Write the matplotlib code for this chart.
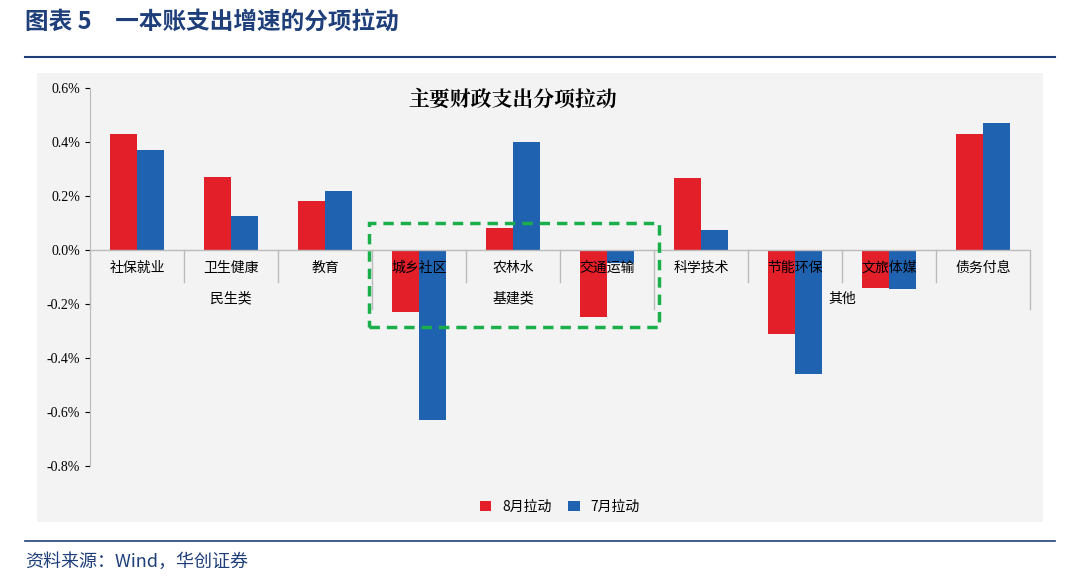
import matplotlib
matplotlib.use("Agg")
import matplotlib.pyplot as plt
from matplotlib.patches import Rectangle
import numpy as np

plt.rcParams['font.family'] = ['Noto Sans CJK SC', 'DejaVu Sans']

categories = ["社保就业","卫生健康","教育","城乡社区","农林水","交通运输","科学技术","节能环保","文旅体媒","债务付息"]
aug = [0.43,0.27,0.18,-0.23,0.08,-0.25,0.265,-0.31,-0.14,0.43]
jul = [0.37,0.125,0.22,-0.63,0.40,-0.05,0.075,-0.46,-0.145,0.47]
groups = [("民生类",0,2),("基建类",3,5),("其他",6,9)]
yticks = [0.6,0.4,0.2,0.0,-0.2,-0.4,-0.6,-0.8]

W,H = 1080,585
fig = plt.figure(figsize=(10.8,5.85), dpi=100)
bg = fig.add_axes([37/W,1-522/H,(1043-37)/W,(522-73)/H],zorder=-5)
bg.set_facecolor('#F3F3F3'); bg.set_xticks([]); bg.set_yticks([])
for s in bg.spines.values(): s.set_visible(False)
fig.add_artist(plt.Line2D([25/W,1055/W],[1-57/H]*2,color='#1F3F7A',lw=1.5))
fig.add_artist(plt.Line2D([25/W,1055/W],[1-541/H]*2,color='#1F3F7A',lw=1.2))
fig.text(25/W,1-22/H,"图表 5　一本账支出增速的分项拉动",fontsize=17,fontweight='bold',color='#1F3F7A',va='center',
         family=['Noto Sans CJK SC'])
fig.text(25/W,1-562/H,"资料来源：Wind，华创证券",fontsize=13,style='italic',color='#1F3F7A',va='center')

ax = fig.add_axes([90/W,1-466/H,(1030-90)/W,(466-88)/H],zorder=1)
ax.set_facecolor('none')
x = np.arange(len(categories))
w = 0.29
ax.bar(x-w/2,aug,w,color='#E3202A',label='8月拉动',zorder=3)
ax.bar(x+w/2,jul,w,color='#1F62B0',label='7月拉动',zorder=3)
ax.set_xlim(-0.5,len(categories)-0.5)
ax.set_ylim(-0.8,0.6)
ax.set_yticks(yticks)
ax.set_yticklabels([f"{v:.1f}%" for v in yticks],family=['Liberation Serif'],fontsize=10)
ax.set_xticks([])
for s in ['top','right','bottom']:
    ax.spines[s].set_visible(False)
ax.spines['left'].set_color('#BBBBBB')
ax.axhline(0,color='#BBBBBB',lw=1,zorder=4)
for i,c in enumerate(categories):
    ax.text(i,-0.065,c,ha='center',va='center',fontsize=10,zorder=5)
for name,a,b in groups:
    ax.text((a+b)/2,-0.18,name,ha='center',va='center',fontsize=10)
bounds = [g[1]-0.5 for g in groups]+[groups[-1][2]+0.5]
for i in range(len(categories)+1):
    b = i-0.5
    low = -0.22 if b in bounds else -0.12
    ax.plot([b,b],[0,low],color='#BBBBBB',lw=1,clip_on=False)
ax.add_patch(Rectangle((2.47,-0.285),5.55-2.47,0.385,fill=False,edgecolor='#1AAF4A',lw=2.5,ls=(0,(3,2)),zorder=6,clip_on=False))
ax.text(4.0,0.555,"主要财政支出分项拉动",ha='center',va='center',fontsize=15,fontweight='bold',family=['Noto Serif CJK SC','Noto Sans CJK SC'])
ax.legend(loc='center',bbox_to_anchor=(0.5,(1-(507-88)/(466-88))),ncol=2,frameon=False,fontsize=10,
          handlelength=0.8,handleheight=0.8,columnspacing=1.2)
fig.savefig("out.png",dpi=100)
